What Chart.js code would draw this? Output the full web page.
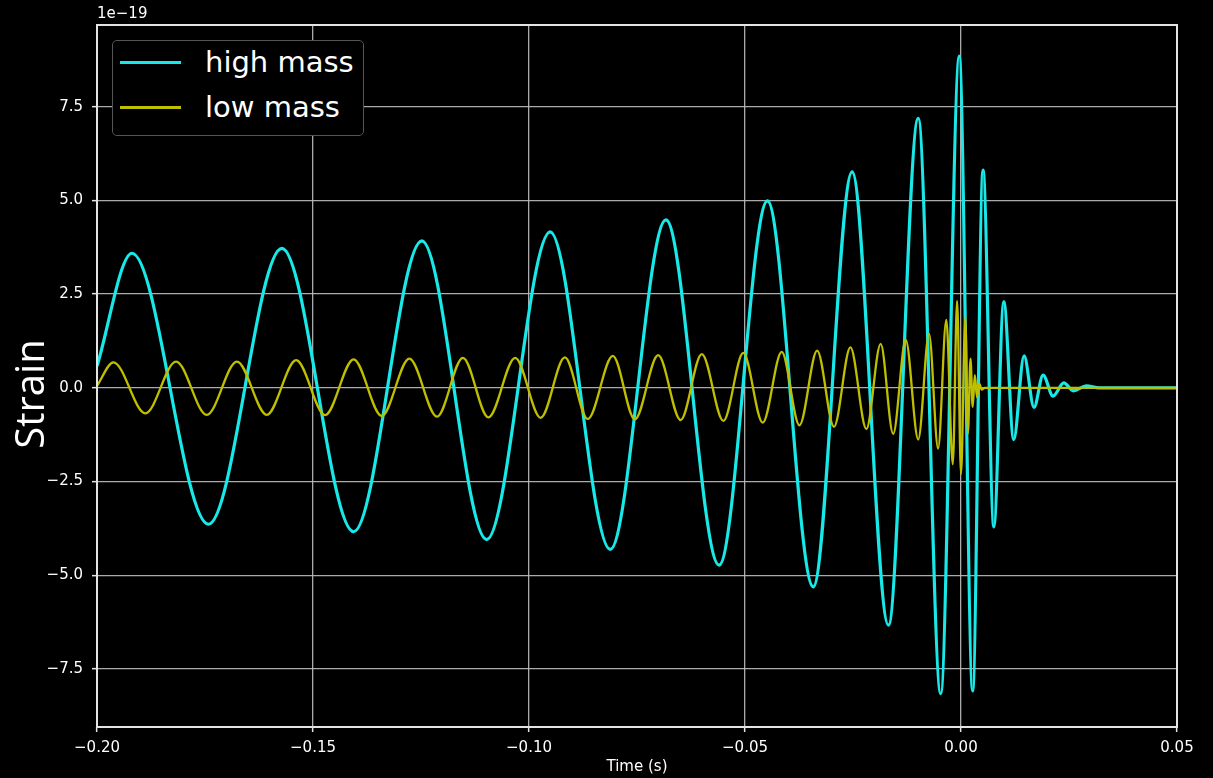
<!DOCTYPE html>
<html>
<head>
<meta charset="utf-8">
<script src="https://cdn.jsdelivr.net/npm/chart.js@4.4.1/dist/chart.umd.min.js"></script>
<style>
  html, body { margin: 0; padding: 0; background: #000; }
  #wrap { position: relative; width: 1213px; height: 778px; }
  #legend {
    position: absolute; left: 112px; top: 40px; width: 250px; height: 94px;
    background: #000; border: 1px solid #555; border-radius: 5px;
    font-family: "DejaVu Sans", sans-serif; font-size: 29px; color: #fff;
  }
  #legend .row { position: absolute; left: 0; height: 40px; line-height: 40px; white-space: nowrap; }
  #legend .swatch { position: absolute; left: 7px; top: 18px; width: 61px; height: 3px; }
  #legend .label { position: absolute; left: 92px; top: -1px; }
</style>
</head>
<body>
<div id="wrap">
  <canvas id="chart-strain"></canvas>
  <div id="legend"></div>
</div>
<script>
// ── Data (strain in units of 1e-19, time in s) ──────────────────
const highTime = [
  -0.2000, -0.1919, -0.1742, -0.1572, -0.1406, -0.1248, -0.1098, -0.0951,
  -0.0812, -0.0683, -0.0560, -0.0448, -0.0342, -0.0252, -0.0168, -0.0099,
  -0.0047, -0.0004,  0.0027,  0.0051,  0.0076,  0.0099,  0.0122,  0.0146,
   0.0169,  0.0190,  0.0213,  0.0238,  0.0260,  0.0290,  0.0320,  0.0500,
];
const highStrain = [
   0.58,  3.59, -3.64,  3.72, -3.84,  3.92, -4.05,  4.16,
  -4.31,  4.48, -4.73,  4.99, -5.31,  5.76, -6.33,  7.19,
  -8.16,  8.85, -8.09,  5.81, -3.71,  2.30, -1.38,  0.85,
  -0.52,  0.34, -0.22,  0.13, -0.08,  0.05,  0.00,  0.00,
];

const lowTime = [
  -0.2000, -0.1962, -0.1888, -0.1817, -0.1746, -0.1676, -0.1607, -0.1539,
  -0.1472, -0.1406, -0.1341, -0.1277, -0.1213, -0.1153, -0.1094, -0.1032,
  -0.0973, -0.0917, -0.0864, -0.0806, -0.0755, -0.0701, -0.0649, -0.0600,
  -0.0550, -0.0504, -0.0459, -0.0415, -0.0374, -0.0333, -0.0294, -0.0256,
  -0.0219, -0.0186, -0.0157, -0.0128, -0.0099, -0.0074, -0.0053, -0.0034,
  -0.0019, -0.0009,  0.0000,  0.0010,  0.0016,  0.0022,  0.0027,  0.0032,
   0.0037,  0.0042,  0.0048,  0.0055,  0.0500,
];
const lowStrain = [
   0.05,  0.68, -0.68,  0.70, -0.72,  0.70, -0.72,  0.74,
  -0.73,  0.76, -0.75,  0.78, -0.77,  0.80, -0.79,  0.80,
  -0.80,  0.81, -0.83,  0.85, -0.84,  0.87, -0.86,  0.90,
  -0.88,  0.93, -0.93,  0.96, -1.00,  0.99, -1.04,  1.08,
  -1.10,  1.17, -1.23,  1.28, -1.38,  1.44, -1.62,  1.81,
  -2.04,  2.32, -2.30,  1.88, -1.22,  0.78, -0.51,  0.34,
  -0.25,  0.12, -0.05,  0.00,  0.00,
];

const xTicks = [-0.20, -0.15, -0.10, -0.05, 0.00, 0.05];
const yTicks = [-7.5, -5.0, -2.5, 0.0, 2.5, 5.0, 7.5];

const COLORS = { high: 'rgb(24,232,232)', low: 'rgb(191,191,0)' };
const SERIES = [
  { label: 'high mass', time: highTime, strain: highStrain, color: COLORS.high, width: 3.2, order: 1 },
  { label: 'low mass',  time: lowTime,  strain: lowStrain,  color: COLORS.low,  width: 2.3, order: 0 },
];

const TICK_FONT = { family: '"DejaVu Sans", sans-serif', size: 15 };
const GRID = { color: 'rgba(190,190,190,0.9)', lineWidth: 1.3, tickLength: 5, tickColor: '#e4e4e4', tickWidth: 1.5 };
const minus = s => s.replace('-', '\u2212');

// ── Frame, offset text and y label ──────────────────────────────
const frameAndLabels = {
  id: 'frameAndLabels',
  afterDatasetsDraw(chart) {
    const { ctx, chartArea: a } = chart;
    ctx.save();
    ctx.strokeStyle = '#e4e4e4';
    ctx.lineWidth = 2;
    ctx.strokeRect(a.left, a.top, a.right - a.left, a.bottom - a.top);

    ctx.fillStyle = '#ffffff';
    ctx.font = '15px "DejaVu Sans"';
    ctx.textBaseline = 'middle';
    ctx.textAlign = 'left';
    ctx.fillText('1e\u221219', a.left, 14);

    ctx.translate(33, 394);
    ctx.rotate(-Math.PI / 2);
    ctx.font = '40px "Open Sans"';
    ctx.textAlign = 'center';
    ctx.fillText('Strain', 0, 0);
    ctx.restore();
  },
};

const ctx = document.getElementById('chart-strain').getContext('2d');
new Chart(ctx, {
  type: 'line',
  data: {
    datasets: SERIES.map(s => ({
      label: s.label,
      data: s.time.map((t, i) => ({ x: t, y: s.strain[i] })),
      borderColor: s.color,
      borderWidth: s.width,
      pointRadius: 0,
      fill: false,
      cubicInterpolationMode: 'monotone',
      order: s.order,
    })),
  },
  options: {
    responsive: true,
    maintainAspectRatio: false,
    animation: false,
    layout: { padding: { left: 0, right: 36, top: 25, bottom: 0 } },
    plugins: { legend: { display: false }, tooltip: { enabled: false } },
    scales: {
      x: {
        type: 'linear',
        min: -0.2,
        max: 0.05,
        afterBuildTicks: axis => { axis.ticks = xTicks.map(v => ({ value: v })); },
        afterFit: axis => { axis.height = 51; },
        ticks: {
          color: '#ffffff',
          font: TICK_FONT,
          padding: 7,
          callback: v => minus(v.toFixed(2)),
        },
        grid: GRID,
        border: { display: false },
        title: {
          display: true,
          text: 'Time (s)',
          color: '#ffffff',
          font: { family: '"DejaVu Sans", sans-serif', size: 15 },
          padding: { top: 0, bottom: 2 },
        },
      },
      y: {
        type: 'linear',
        min: -9.05,
        max: 9.68,
        afterBuildTicks: axis => { axis.ticks = yTicks.map(v => ({ value: v })); },
        afterFit: axis => { axis.width = 97; },
        ticks: {
          color: '#ffffff',
          font: TICK_FONT,
          padding: 9,
          callback: v => minus(v.toFixed(1)),
        },
        grid: GRID,
        border: { display: false },
      },
    },
  },
  plugins: [frameAndLabels],
});

// ── Legend (upper left, inside the axes) ────────────────────────
const legend = document.getElementById('legend');
SERIES.forEach((s, i) => {
  const row = document.createElement('div');
  row.className = 'row';
  row.style.top = (2 + i * 45) + 'px';
  row.style.width = '100%';
  row.innerHTML = `<span class="swatch" style="background:${s.color}"></span><span class="label">${s.label}</span>`;
  legend.appendChild(row);
});
</script>
</body>
</html>
